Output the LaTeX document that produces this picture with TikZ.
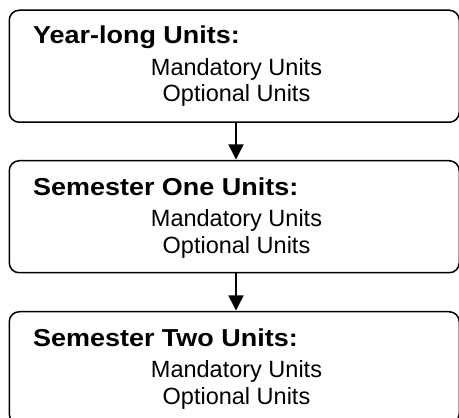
\documentclass[tikz,border=0pt]{standalone}
\usepackage{fontspec}
\usepackage{graphicx}
\setmainfont{Liberation Sans}
\usetikzlibrary{arrows.meta}
\tikzset{
  unitbox/.style={draw, line width=1.5pt, rounded corners=10pt, minimum width=450pt, minimum height=112pt, inner sep=0pt, anchor=north west},
  titletext/.style={anchor=base west, inner sep=0pt, font=\fontsize{24.5}{28}\selectfont\bfseries},
  itemtext/.style={anchor=base, inner sep=0pt, font=\fontsize{23.5}{28}\selectfont},
  flow/.style={line width=1.5pt, -{Triangle[width=15pt,length=15pt]}, shorten >=0.5pt}
}
\begin{document}
\begin{tikzpicture}[x=1pt,y=1pt]
\useasboundingbox (0,0) rectangle (459,418);
% boxes (y measured from the bottom of the picture)
\node[unitbox] (b1) at (8.5,408.5) {};
\node[unitbox] (b2) at (8.5,258) {};
\node[unitbox] (b3) at (8.5,107) {};
\coordinate (mx) at (236,0);
% texts
\node[titletext] (t1) at (33,374) {\scalebox{1.1}[1]{Year-long Units:}};
\node[itemtext] (m1) at (236.5,342.5) {Mandatory Units};
\node[itemtext] (o1) at (236.5,316) {Optional Units};
\node[titletext] (t2) at (33,222.5) {\scalebox{1.1}[1]{Semester One Units:}};
\node[itemtext] (m2) at (236.5,191) {Mandatory Units};
\node[itemtext] (o2) at (236.5,164.5) {Optional Units};
\node[titletext] (t3) at (33,71.5) {\scalebox{1.1}[1]{Semester Two Units:}};
\node[itemtext] (m3) at (236.5,40) {Mandatory Units};
\node[itemtext] (o3) at (236.5,13.5) {Optional Units};
% connectors
\draw[flow] (b1.south -| mx) -- (b2.north -| mx);
\draw[flow] (b2.south -| mx) -- (b3.north -| mx);
\end{tikzpicture}
\end{document}
